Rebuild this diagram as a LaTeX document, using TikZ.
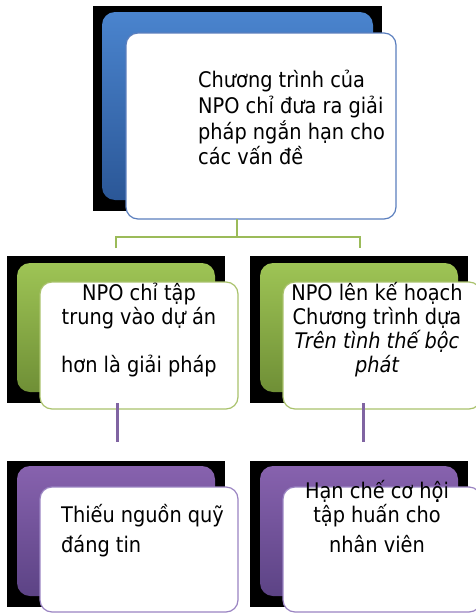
\documentclass[tikz,border=0pt]{standalone}
\usepackage{fontspec}
\setmainfont{DejaVu Sans Condensed}
\definecolor{blueT}{HTML}{4A84CE}
\definecolor{blueB}{HTML}{2B5797}
\definecolor{blueL}{HTML}{5B7FBE}
\definecolor{greenT}{HTML}{9EC455}
\definecolor{greenB}{HTML}{6F8F36}
\definecolor{greenL}{HTML}{A9C26C}
\definecolor{purT}{HTML}{8762AE}
\definecolor{purB}{HTML}{5C4385}
\definecolor{purL}{HTML}{9A84C2}
\definecolor{purC}{HTML}{8064A2}
\definecolor{greenC}{HTML}{9BBB59}
\tikzset{
  blk/.style={fill=black},
  wbox/.style={draw, fill=white, rounded corners=12pt, line width=1.2pt, inner sep=0pt},
  txt/.style={font=\fontsize{21.5}{25}\selectfont, inner sep=0pt, anchor=base, text=black},
  txtl/.style={txt, anchor=base west},
  gconn/.style={draw=greenC, line width=1.5pt},
  pconn/.style={draw=purC, line width=3pt}
}
\begin{document}
\begin{tikzpicture}[x=1pt,y=-1pt]
\useasboundingbox (0,0) rectangle (476,613);
\fill[white] (0,0) rectangle (476,613);

% ---- top box ----
\fill[blk] (93,6) rectangle (382,211);
\shade[top color=blueT, bottom color=blueB, rounded corners=13pt] (102,12) rectangle (373,200);
\node[wbox, draw=blueL, minimum width=270pt, minimum height=186pt] (top) at (261,126) {};
\node[txtl] (t1) at (198,87) {Chương trình của};
\node[txtl] (t2) at (198,113) {NPO chỉ đưa ra giải};
\node[txtl] (t3) at (198,139) {pháp ngắn hạn cho};
\node[txtl] (t4) at (198,164) {các vấn đề};

% ---- middle row ----
\fill[blk] (7,256) rectangle (225,403);
\shade[top color=greenT, bottom color=greenB, rounded corners=13pt] (17,263) rectangle (215,392);
\node[wbox, draw=greenL, minimum width=198pt, minimum height=127pt] (ml) at (139,345.5) {};
\node[txt] (ml1) at (139,300) {NPO chỉ tập};
\node[txt] (ml2) at (139,324) {trung vào dự án};
\node[txt] (ml3) at (139,372) {hơn là giải pháp};

\fill[blk] (250,256) rectangle (468,403);
\shade[top color=greenT, bottom color=greenB, rounded corners=13pt] (260,263) rectangle (458,392);
\node[wbox, draw=greenL, minimum width=198pt, minimum height=127pt] (mr) at (382,345.5) {};
\node[txt] (mr1) at (377,300) {NPO lên kế hoạch};
\node[txt] (mr2) at (377,324) {Chương trình dựa};
\node[txt] (mr3) at (377,348) {\itshape Trên tình thế bộc};
\node[txt] (mr4) at (377,372) {\itshape phát};

% ---- bottom row ----
\fill[blk] (7,461) rectangle (225,607);
\shade[top color=purT, bottom color=purB, rounded corners=13pt] (17,466) rectangle (215,596);
\node[wbox, draw=purL, minimum width=198pt, minimum height=125pt] (bl) at (139,549.5) {};
\node[txtl] (bl1) at (61,522) {Thiếu nguồn quỹ};
\node[txtl] (bl2) at (61,552) {đáng tin};

\fill[blk] (250,461) rectangle (468,607);
\shade[top color=purT, bottom color=purB, rounded corners=13pt] (260,466) rectangle (458,596);
\node[wbox, draw=purL, minimum width=198pt, minimum height=125pt] (br) at (382,549.5) {};
\node[txt] (br1) at (377,498) {Hạn chế cơ hội};
\node[txt] (br2) at (377,522) {tập huấn cho};
\node[txt] (br3) at (377,552) {nhân viên};

% ---- connectors ----
\coordinate (g0) at (237,219);
\coordinate (gm) at (237,237);
\coordinate (gl) at (116,237);
\coordinate (gr) at (360,237);
\coordinate (gld) at (116,248);
\coordinate (grd) at (360,248);
\draw[gconn] (g0) -- (gm);
\draw[gconn] (gld) -- (gl) -- (gr) -- (grd);

\coordinate (pl0) at (117,403);
\coordinate (pl1) at (117,442);
\coordinate (pr0) at (363,403);
\coordinate (pr1) at (363,442);
\draw[pconn] (pl0) -- (pl1);
\draw[pconn] (pr0) -- (pr1);
\end{tikzpicture}
\end{document}
